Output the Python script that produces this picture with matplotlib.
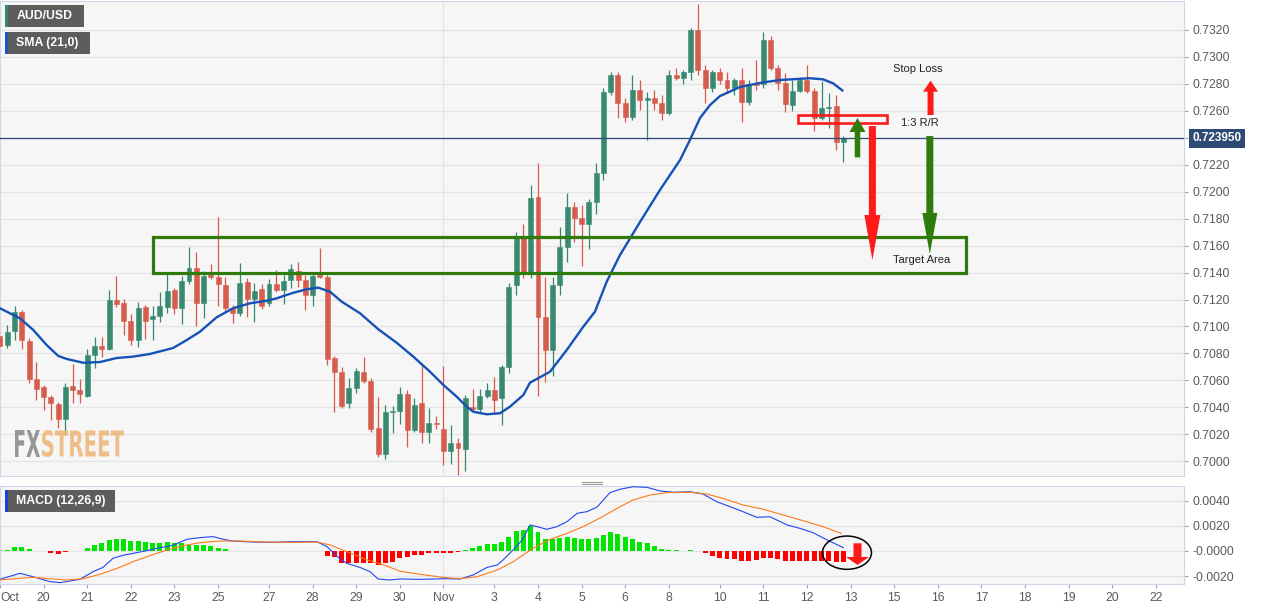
import matplotlib
matplotlib.use('Agg')
import matplotlib.pyplot as plt
from matplotlib.patches import Rectangle, Ellipse, PathPatch
from matplotlib.textpath import TextPath
from matplotlib.font_manager import FontProperties
from matplotlib.transforms import Affine2D, blended_transform_factory

plt.rcParams['font.family'] = ['Liberation Sans', 'DejaVu Sans']

# AUD/USD 4h candles, 19 Oct - 12 Nov (index = candle number)
opens = [0.70931, 0.70862, 0.70966, 0.71110, 0.70892, 0.70610, 0.70551, 0.70479, 0.70425, 0.70313,
         0.70560, 0.70528, 0.70486, 0.70788, 0.70857, 0.70833, 0.71196, 0.71174, 0.71043, 0.70899,
         0.71144, 0.71055, 0.71078, 0.71146, 0.71270, 0.71135, 0.71339, 0.71431, 0.71176, 0.71382,
         0.71369, 0.71310, 0.71135, 0.71098, 0.71332, 0.71201, 0.71276, 0.71172, 0.71315, 0.71270,
         0.71345, 0.71414, 0.71345, 0.71230, 0.71382, 0.71367, 0.70764, 0.70662, 0.70430, 0.70546,
         0.70662, 0.70597, 0.70249, 0.70054, 0.70363, 0.70375, 0.70496, 0.70232, 0.70430, 0.70219,
         0.70283, 0.70237, 0.70076, 0.70133, 0.70093, 0.70404, 0.70385, 0.70484, 0.70528, 0.70467,
         0.70697, 0.71308, 0.71654, 0.71406, 0.71963, 0.71072, 0.70825, 0.71308, 0.71592, 0.71889,
         0.71803, 0.71760, 0.71926, 0.72141, 0.72740, 0.72866, 0.72658, 0.72554, 0.72755, 0.72680,
         0.72695, 0.72658, 0.72584, 0.72866, 0.72844, 0.72888, 0.73200, 0.72903, 0.72770, 0.72888,
         0.72829, 0.72770, 0.72829, 0.72666, 0.72799, 0.72799, 0.73126, 0.72918, 0.72804, 0.72643,
         0.72749, 0.72829, 0.72749, 0.72545, 0.72619, 0.72636, 0.72371]
highs = [0.70974, 0.71011, 0.71154, 0.71122, 0.70917, 0.70736, 0.70566, 0.70491, 0.70439, 0.70583,
         0.70721, 0.70610, 0.70833, 0.70924, 0.70925, 0.71270, 0.71374, 0.71204, 0.71092, 0.71181,
         0.71159, 0.71154, 0.71258, 0.71389, 0.71285, 0.71377, 0.71592, 0.71555, 0.71414, 0.71463,
         0.71814, 0.71367, 0.71159, 0.71468, 0.71360, 0.71322, 0.71315, 0.71350, 0.71419, 0.71382,
         0.71463, 0.71480, 0.71382, 0.71397, 0.71580, 0.71382, 0.70781, 0.70699, 0.70617, 0.70692,
         0.70771, 0.70617, 0.70474, 0.70417, 0.70410, 0.70553, 0.70528, 0.70467, 0.70721, 0.70393,
         0.70335, 0.70709, 0.70269, 0.70170, 0.70491, 0.70533, 0.70533, 0.70583, 0.70627, 0.70714,
         0.71325, 0.71703, 0.71758, 0.72050, 0.72215, 0.71369, 0.71369, 0.71740, 0.71988, 0.71926,
         0.71901, 0.71944, 0.72211, 0.72770, 0.72888, 0.72888, 0.72695, 0.72866, 0.72829, 0.72740,
         0.72755, 0.72718, 0.72903, 0.72918, 0.72903, 0.73215, 0.73393, 0.72940, 0.72903, 0.72918,
         0.72888, 0.72844, 0.72918, 0.72829, 0.72977, 0.73185, 0.73155, 0.72940, 0.72879, 0.72829,
         0.72853, 0.72940, 0.72770, 0.72824, 0.72735, 0.72718, 0.72413]
lows = [0.70810, 0.70840, 0.70899, 0.70833, 0.70580, 0.70454, 0.70380, 0.70306, 0.70246, 0.70195,
        0.70432, 0.70432, 0.70480, 0.70692, 0.70773, 0.70825, 0.71144, 0.70937, 0.70862, 0.70850,
        0.70907, 0.70899, 0.71036, 0.71100, 0.71092, 0.71018, 0.71315, 0.71003, 0.71061, 0.71352,
        0.71152, 0.71100, 0.71026, 0.71078, 0.71072, 0.71036, 0.71129, 0.71152, 0.71255, 0.71167,
        0.71285, 0.71295, 0.71122, 0.71152, 0.71360, 0.70714, 0.70367, 0.70395, 0.70395, 0.70506,
        0.70580, 0.70217, 0.70031, 0.70014, 0.70209, 0.70276, 0.70103, 0.70217, 0.70137, 0.70137,
        0.70237, 0.69972, 0.69979, 0.69895, 0.69930, 0.70380, 0.70365, 0.70469, 0.70355, 0.70269,
        0.70652, 0.71233, 0.71357, 0.71357, 0.70484, 0.70590, 0.70632, 0.71233, 0.71481, 0.71629,
        0.71449, 0.71572, 0.71835, 0.72087, 0.72718, 0.72547, 0.72517, 0.72532, 0.72606, 0.72384,
        0.72606, 0.72532, 0.72569, 0.72829, 0.72799, 0.72829, 0.72866, 0.72658, 0.72740, 0.72799,
        0.72740, 0.72718, 0.72517, 0.72643, 0.72755, 0.72770, 0.72903, 0.72755, 0.72594, 0.72601,
        0.72740, 0.72732, 0.72453, 0.72532, 0.72471, 0.72309, 0.72223]
closes = [0.70855, 0.70961, 0.71104, 0.70899, 0.70610, 0.70536, 0.70479, 0.70432, 0.70313, 0.70553,
          0.70528, 0.70499, 0.70788, 0.70855, 0.70833, 0.71196, 0.71167, 0.71043, 0.70899, 0.71139,
          0.71043, 0.71078, 0.71152, 0.71265, 0.71139, 0.71339, 0.71431, 0.71176, 0.71374, 0.71367,
          0.71315, 0.71135, 0.71098, 0.71320, 0.71201, 0.71263, 0.71152, 0.71315, 0.71270, 0.71339,
          0.71424, 0.71345, 0.71230, 0.71374, 0.71367, 0.70758, 0.70662, 0.70410, 0.70541, 0.70672,
          0.70597, 0.70237, 0.70054, 0.70363, 0.70369, 0.70496, 0.70232, 0.70417, 0.70219, 0.70286,
          0.70276, 0.70076, 0.70133, 0.70096, 0.70471, 0.70385, 0.70484, 0.70528, 0.70454, 0.70697,
          0.71290, 0.71654, 0.71406, 0.71951, 0.71072, 0.70825, 0.71308, 0.71592, 0.71889, 0.71803,
          0.71760, 0.71926, 0.72141, 0.72740, 0.72866, 0.72658, 0.72554, 0.72755, 0.72680, 0.72695,
          0.72658, 0.72584, 0.72866, 0.72844, 0.72888, 0.73200, 0.72903, 0.72770, 0.72888, 0.72829,
          0.72770, 0.72829, 0.72666, 0.72799, 0.72792, 0.73126, 0.72918, 0.72804, 0.72651, 0.72749,
          0.72829, 0.72749, 0.72545, 0.72619, 0.72631, 0.72371, 0.72395]

# SMA(21)
sma_x = [0, 2.75, 4.58, 6.42, 8.02, 9.17, 11.42, 13.75, 16.05, 18.29, 20.63, 23.8, 25.68, 27.5,
         29.8, 32.05, 34.4, 36.7, 38.06, 40.34, 42.19, 43.78, 45.39, 47.0, 49.52, 52.04, 54.57,
         56.85, 59.15, 60.98, 62.82, 64.2, 65.1, 66.95, 68.78, 70.15, 71.98, 72.9, 74.28, 75.65,
         77.95, 80.23, 81.84, 83.45, 85.28, 88.03, 90.78, 93.54, 94.9, 96.29, 97.66, 99.04, 101.8,
         104.5, 107.3, 111.4, 113.2, 114.6, 115.9]
sma_y = [0.71135, 0.71060, 0.70974, 0.70862, 0.70781, 0.70759, 0.70731, 0.70736, 0.70766, 0.70776,
         0.70796, 0.70840, 0.70899, 0.70961, 0.71068, 0.71135, 0.71172, 0.71191, 0.71209, 0.71250,
         0.71276, 0.71288, 0.71258, 0.71184, 0.71098, 0.70979, 0.70879, 0.70776, 0.70664, 0.70566,
         0.70479, 0.70405, 0.70367, 0.70348, 0.70356, 0.70405, 0.70491, 0.70583, 0.70623, 0.70664,
         0.70825, 0.70998, 0.71110, 0.71332, 0.71530, 0.71775, 0.72013, 0.72235, 0.72384, 0.72547,
         0.72643, 0.72710, 0.72777, 0.72807, 0.72829, 0.72842, 0.72834, 0.72804, 0.72750]

# MACD (12,26,9)
macd_x = [0, 2.75, 4.54, 6.88, 8.25, 11.0, 12.8, 14.17, 15.54, 16.92, 18.29, 20.2, 22.0, 23.8,
          25.7, 27.5, 29.3, 30.7, 32.0, 34.8, 37.6, 40.3, 43.6, 45.0, 46.4, 47.7, 49.5, 50.9, 52.0,
          53.6, 55.0, 57.8, 60.9, 63.3, 65.1, 67.0, 68.4, 69.2, 70.8, 71.9, 72.9, 73.9, 75.2, 76.6,
          78.0, 79.4, 80.7, 82.1, 83.9, 85.3, 87.1, 89.0, 90.8, 92.6, 94.9, 96.7, 98.6, 100.4,
          102.2, 104.1, 105.9, 108.3, 110.0, 111.8, 113.8, 116.0]
macd_line = [-0.00225, -0.00177, -0.00204, -0.00243, -0.00251, -0.00225, -0.00164, -0.0013,
             -0.00058, -0.00034, -0.00019, 0.00003, 0.00026, 0.00045, 0.00093, 0.00106, 0.00114,
             0.00093, 0.00079, 0.00071, 0.00069, 0.00074, 0.00074, 0.00034, -0.00045, -0.00098,
             -0.0013, -0.00164, -0.00222, -0.0023, -0.00222, -0.00225, -0.0022, -0.00222, -0.0019,
             -0.0013, -0.00111, -0.00071, 0.00021, 0.00093, 0.00206, 0.00193, 0.00172, 0.00193,
             0.00233, 0.00299, 0.00312, 0.00347, 0.00463, 0.0049, 0.0051, 0.00505, 0.00476, 0.00466,
             0.0047, 0.00452, 0.00391, 0.00352, 0.00312, 0.00267, 0.00272, 0.00206, 0.0018, 0.00146,
             0.00087, 0.00026]
signal_x = [0, 2.75, 4.54, 6.88, 9.2, 11.4, 13.75, 16.1, 18.3, 20.6, 23.0, 25.2, 27.5, 30.3, 33.0,
            36.7, 40.3, 43.6, 45.4, 47.7, 50.5, 53.2, 55.0, 57.8, 60.9, 63.3, 65.6, 68.4, 70.6,
            73.3, 75.7, 78.0, 80.2, 82.5, 84.9, 87.1, 89.4, 91.7, 94.9, 97.2, 99.4, 102.2, 105.0,
            107.7, 110.5, 113.2, 115.7]
signal_line = [-0.0023, -0.00217, -0.00209, -0.0022, -0.0023, -0.0022, -0.00185, -0.00138,
               -0.00085, -0.00037, 0.00008, 0.00042, 0.00066, 0.00079, 0.00079, 0.00071, 0.00069,
               0.00071, 0.00048, -0.00005, -0.00071, -0.00119, -0.0016, -0.00185, -0.00209,
               -0.0022, -0.00204, -0.00151, -0.00085, 0.00021, 0.00093, 0.0014, 0.00193, 0.0026,
               0.00339, 0.00405, 0.00444, 0.00463, 0.00466, 0.00452, 0.00418, 0.00365, 0.00331,
               0.00286, 0.0024, 0.00193, 0.0014]
hist = [0.00005, 0.0001, 0.00034, 0.00034, 0.00013, 0.00002, -0.00003, -0.00019, -0.00024, -0.0001,
        -0.00003, 0.00002, 0.00026, 0.00048, 0.0006, 0.00087, 0.00098, 0.00093, 0.00079, 0.00079,
        0.00074, 0.00066, 0.00066, 0.00068, 0.0006, 0.00066, 0.00048, 0.00048, 0.00045, 0.00042,
        0.00026, 0.00013, 0.00003, 0.00002, -0.00002, -0.00004, -0.00003, 0.00002, 0.00003, 0.00002,
        0.00003, 0.00001, -0.00001, -0.00002, -0.00004, -0.0004, -0.0005, -0.00093, -0.00093, -0.00093,
        -0.00093, -0.00098, -0.00114, -0.00098, -0.00085, -0.00058, -0.0005, -0.00034, -0.00034, -0.00019,
        -0.00013, -0.00013, -0.00013, -0.0001, 0.00008, 0.0002, 0.0004, 0.00053, 0.00053, 0.00074,
        0.00114, 0.0016, 0.00167, 0.002, 0.00148, 0.00093, 0.00093, 0.001, 0.00108, 0.00106,
        0.00095, 0.00093, 0.001, 0.00127, 0.00148, 0.00135, 0.00108, 0.00093, 0.00074, 0.0006,
        0.0004, 0.00016, 0.00008, 0.00005, 0.00002, 0.00008, 0.00002, -0.00013, -0.0004, -0.00058,
        -0.0006, -0.00064, -0.00079, -0.00079, -0.0007, -0.00053, -0.00053, -0.00064, -0.00077, -0.00077,
        -0.00079, -0.00077, -0.00082, -0.00082, -0.00082, -0.00087, -0.00087]

last_price = 0.72395
tick_pos = [0, 6, 12, 18, 24, 30, 37, 43, 49, 55, 61, 68, 74, 80, 86, 92, 99, 105, 111, 117,
            123, 129, 135, 141, 147, 153, 159]
tick_lab = ['Oct', '20', '21', '22', '23', '25', '27', '28', '29', '30', 'Nov', '3', '4', '5', '6',
            '8', '10', '11', '12', '13', '15', '16', '17', '18', '19', '20', '22']
price_ticks = [0.7000 + 0.002 * k for k in range(17)]
macd_ticks = [0.004, 0.002, 0.0, -0.002]
macd_tick_lab = ['0.0040', '0.0020', '-0.0000', '-0.0020']

W, H = 1261, 610
fig = plt.figure(figsize=(W / 100, H / 100), dpi=100)
ax = fig.add_axes([0, 1 - 476 / H, 1184 / W, 475 / H])
ax2 = fig.add_axes([0, 1 - 584 / H, 1184 / W, 98.3 / H])

XMAX = 1184 / 7.27
GRID = '#e4e4e4'
SPINE = '#cfd6e6'
TXT = '#5a5a5a'
for a in (ax, ax2):
    a.set_facecolor('#f6f6f6')
    a.set_xlim(0, XMAX)
    for s in a.spines.values():
        s.set_color(SPINE)
        s.set_linewidth(0.8)
    a.yaxis.tick_right()
    a.tick_params(axis='y', length=3, color='#9aa3b5', labelsize=8.7, labelcolor=TXT, pad=3)
    a.axvline(61, color=GRID, lw=0.9, zorder=0)

# price panel
ax.set_ylim(0.698903, 0.734152)
ax.set_yticks(price_ticks)
ax.set_yticklabels(['' if abs(t - 0.724) < 1e-6 else '%.4f' % t for t in price_ticks])
ax.set_xticks([])
for t in price_ticks:
    ax.axhline(t, color=GRID, lw=0.9, zorder=0)

up_c, dn_c = '#35876d', '#d65a4a'
for i in range(len(opens)):
    o, h, l, c = opens[i], highs[i], lows[i], closes[i]
    col = up_c if c >= o else dn_c
    ax.vlines(i, l, h, color=col, lw=0.9, zorder=2)
    body = max(abs(c - o), 0.00006)
    ax.bar(i, body, bottom=min(o, c), width=0.68, color=col,
           edgecolor=col, linewidth=0.4, alpha=0.97, zorder=3)

ax.plot(sma_x, sma_y, color='#1552b5', lw=1.7, zorder=4, solid_capstyle='round')
ax.axhline(last_price, color='#2c4a74', lw=0.9, zorder=4)
ax.text(1192.5 / 1184, last_price, '0.723950', transform=blended_transform_factory(ax.transAxes, ax.transData),
        color='white', fontsize=8.5, fontweight='bold', va='center', ha='left', clip_on=False,
        bbox=dict(boxstyle='square,pad=0.28', fc='#2c4a74', ec='none'), zorder=6)

# trade setup drawings
GREEN = '#2f7c0c'
RED = '#ff1a1a'
ax.add_patch(Rectangle((21.05, 0.71395), 132.9 - 21.05, 0.71662 - 0.71395, fill=False,
                       ec=GREEN, lw=2.3, zorder=5))
ax.add_patch(Rectangle((109.8, 0.72512), 122.05 - 109.8, 0.72569 - 0.72512, fill=False,
                       ec=RED, lw=1.9, zorder=5))


def arrow(a, tail, tip, color, hw, hl, tw):
    k = 72 / 100
    a.annotate('', xy=tip, xytext=tail, zorder=6,
               arrowprops=dict(arrowstyle='simple,head_width=%.2f,head_length=%.2f,tail_width=%.2f'
                               % (hw * k, hl * k, tw * k),
                               color=color, lw=0, shrinkA=0, shrinkB=0, mutation_scale=1))


arrow(ax, (117.95, 0.72255), (117.95, 0.72547), GREEN, 16, 14, 5.5)
arrow(ax, (120.0, 0.72487), (120.0, 0.71493), RED, 16, 45, 7)
arrow(ax, (127.9, 0.72413), (127.9, 0.71538), GREEN, 15, 41, 7)
arrow(ax, (128.0, 0.72569), (128.0, 0.72824), RED, 15, 11, 6)
ax.text(126.3, 0.72908, 'Stop Loss', fontsize=8, ha='center', va='center', color='#222222')
ax.text(126.5, 0.72512, '1:3 R/R', fontsize=8, ha='center', va='center', color='#222222')
ax.text(126.8, 0.71493, 'Target Area', fontsize=8, ha='center', va='center', color='#222222')

# MACD panel
ax2.set_ylim(-0.002619, 0.00518)
ax2.set_yticks(macd_ticks)
ax2.set_yticklabels(macd_tick_lab)
for t in macd_ticks:
    ax2.axhline(t, color=GRID, lw=0.9, zorder=0)
ax2.bar(range(len(hist)), hist, width=0.68,
        color=['#00e600' if v >= 0 else '#ff0000' for v in hist], zorder=2)
ax2.plot(macd_x, macd_line, color='#2246f0', lw=0.8, zorder=3)
ax2.plot(signal_x, signal_line, color='#ff7a1a', lw=0.8, zorder=3)
ax2.add_patch(Ellipse((116.5, -0.000135), 6.74, 0.00264, fill=False, ec='black', lw=1.1, zorder=5))
arrow(ax2, (117.95, 0.00061), (117.95, -0.00111), RED, 23, 8, 8)
ax2.set_xticks(tick_pos)
ax2.set_xticklabels(tick_lab)
ax2.tick_params(axis='x', length=3, color='#9aa3b5', labelsize=8.7, labelcolor=TXT, pad=3)
ax2.get_xticklabels()[0].set_horizontalalignment('left')


# overlay labels in pixel coordinates
def px_rect(x, y, w, h, color):
    fig.add_artist(Rectangle((x / W, 1 - (y + h) / H), w / W, h / H,
                             transform=fig.transFigure, color=color, lw=0, zorder=10))


for (label, y0, w, stripe) in [('AUD/USD', 5, 79, '#2e8b72'), ('SMA (21,0)', 32, 85, '#1a56c8'),
                               ('MACD (12,26,9)', 490, 110, '#1a3fe0')]:
    px_rect(5, y0, w, 21.5, '#5d5d5d')
    px_rect(5, y0, 2.5, 21.5, stripe)
    fig.text(16.5 / W, 1 - (y0 + 11) / H, label, color='white', fontsize=8.8, fontweight='bold',
             va='center', ha='left', zorder=11)

# pane separator handle
for yy in (481.5, 484):
    fig.add_artist(plt.Line2D([582 / W, 602 / W], [1 - yy / H, 1 - yy / H], color='#9a9a9a', lw=0.8))

# FXSTREET watermark, squeezed to the logo box
fp = FontProperties(family='DejaVu Sans', weight='bold')


def squeezed(s, x0, x1, ytop, ybot, color):
    tp = TextPath((0, 0), s, size=100, prop=fp)
    ext = tp.get_extents()
    tr = Affine2D().translate(-ext.x0, -ext.y0).scale((x1 - x0) / ext.width, (ybot - ytop) / ext.height)
    tr = tr.translate(x0, H - ybot)
    fig.add_artist(PathPatch(tp, fc=color, lw=0, transform=tr, zorder=1, alpha=0.9))


squeezed('FX', 15, 40, 430, 457, '#8c8c8c')
squeezed('STREET', 42, 124, 430, 457, '#efb87b')

fig.savefig('out.png', dpi=100, facecolor='white')
